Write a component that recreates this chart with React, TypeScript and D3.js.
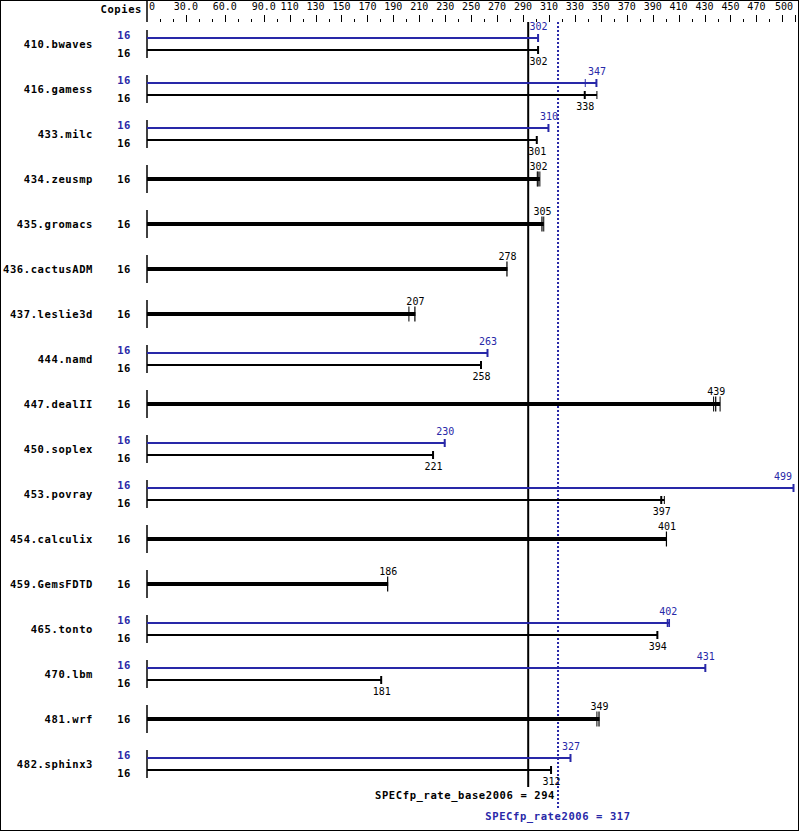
import React from "react";
import * as d3 from "d3";

const benchmarks = ["410.bwaves","416.gamess","433.milc","434.zeusmp","435.gromacs","436.cactusADM","437.leslie3d","444.namd","447.dealII","450.soplex","453.povray","454.calculix","459.GemsFDTD","465.tonto","470.lbm","481.wrf","482.sphinx3"];
const copies = [16,16,16,16,16,16,16,16,16,16,16,16,16,16,16,16,16];
const baseValues = [302,338,301,302,305,278,207,258,439,221,397,401,186,394,181,349,312];
const peakValues: (number|null)[] = [302,347,310,null,null,null,null,263,null,230,499,null,null,402,431,null,327];
const baseOtherRuns: number[][] = [[],[347],[],[301,303],[306],[],[202],[],[437,442],[],[399],[],[],[],[],[347],[]];
const peakOtherRuns: number[][] = [[],[338],[],[],[],[],[],[],[],[],[],[],[],[403],[],[],[]];
const tickLabels = ["0","30.0","60.0","90.0","110","130","150","170","190","210","230","250","270","290","310","330","350","370","390","410","430","450","470","500"];
const tickLabelValues = [0,30,60,90,110,130,150,170,190,210,230,250,270,290,310,330,350,370,390,410,430,450,470,500];
const baseMean = 294;
const peakMean = 317;

const W = 799, H = 831;
const BLUE = "#2828a8";
const boldFont = "'DejaVu Sans Mono', monospace";

export default function App() {
  const x = d3.scaleLinear().domain([0, 500]).range([147, 795.3]);
  const rowY = (i: number) => 44 + 45 * i;
  const minorTicks = d3.range(10, 501, 10);
  const longSet = new Set([...tickLabelValues, 490]);

  const label = (cx: number) => Math.min(cx, 783);

  const endTicks = (vals: number[], main: number, y: number, half: number, color: string, key: string, mainW: number) => (
    <g key={key}>
      {vals.map((r, j) => (
        <line key={j} x1={x(r)} x2={x(r)} y1={y - half} y2={y + half} stroke={color} strokeWidth={1} />
      ))}
      <line x1={x(main) - 0.5} x2={x(main) - 0.5} y1={y - half} y2={y + half} stroke={color} strokeWidth={mainW} />
    </g>
  );

  return (
    <svg width={W} height={H} style={{ position: "absolute", left: 0, top: 0, background: "#fff" }}>
      <rect x={0.5} y={0.5} width={W - 1} height={H - 1} fill="#fff" stroke="#000" strokeWidth={1} />
      {/* axis */}
      <line x1={147} x2={147} y1={0} y2={22} stroke="#000" strokeWidth={1.5} />
      {minorTicks.map((t) => (
        <line key={t} x1={Math.round(x(t)) + 0.5} x2={Math.round(x(t)) + 0.5} y1={longSet.has(t) ? 15 : 19} y2={22} stroke="#000" strokeWidth={1} />
      ))}
      {tickLabels.map((t, i) => {
        const v = tickLabelValues[i];
        const anchor = i === 0 ? "start" : i === tickLabels.length - 1 ? "end" : "middle";
        const px = i === 0 ? x(v) + 2 : i === tickLabels.length - 1 ? 793 : x(v);
        return (
          <text key={t} x={px} y={10} fontFamily={boldFont} fontSize={10} textAnchor={anchor} fill="#000">{t}</text>
        );
      })}
      <text x={142} y={13} fontFamily={boldFont} fontSize={10.5} fontWeight="bold" letterSpacing={0.6} textAnchor="end">Copies</text>

      {/* reference lines */}
      <line x1={x(baseMean)} x2={x(baseMean)} y1={22} y2={787} stroke="#000" strokeWidth={2} />
      <line x1={x(peakMean)} x2={x(peakMean)} y1={22} y2={808} stroke={BLUE} strokeWidth={2} strokeDasharray="2,2" />

      {benchmarks.map((name, i) => {
        const c = rowY(i);
        const peak = peakValues[i];
        const base = baseValues[i];
        const items: React.ReactNode[] = [];
        items.push(<line key="v" x1={147} x2={147} y1={c - 14} y2={c + 14} stroke="#000" strokeWidth={1.5} />);
        items.push(
          <text key="n" x={93} y={c} dy="0.35em" fontFamily={boldFont} fontSize={10.5} fontWeight="bold" letterSpacing={0.6} textAnchor="end">{name}</text>
        );
        if (peak === null) {
          const maxV = Math.max(base, ...baseOtherRuns[i]);
          items.push(<text key="c" x={131} y={c} dy="0.35em" fontFamily={boldFont} fontSize={10.5} fontWeight="bold" letterSpacing={0.6} textAnchor="end">{copies[i]}</text>);
          items.push(<line key="b" x1={147} x2={x(maxV)} y1={c} y2={c} stroke="#000" strokeWidth={4} />);
          items.push(endTicks(baseOtherRuns[i], base, c, 7.5, "#000", "t", 1.2));
          items.push(<text key="l" x={label(x(base))} y={c - 9} fontFamily={boldFont} fontSize={10} textAnchor="middle">{base}</text>);
        } else {
          const yp = c - 6, yb = c + 6;
          const maxP = Math.max(peak, ...peakOtherRuns[i]);
          const maxB = Math.max(base, ...baseOtherRuns[i]);
          items.push(<text key="cp" x={131} y={c - 9} dy="0.35em" fontFamily={boldFont} fontSize={10.5} fontWeight="bold" letterSpacing={0.6} textAnchor="end" fill={BLUE}>{copies[i]}</text>);
          items.push(<text key="cb" x={131} y={c + 9} dy="0.35em" fontFamily={boldFont} fontSize={10.5} fontWeight="bold" letterSpacing={0.6} textAnchor="end">{copies[i]}</text>);
          items.push(<line key="p" x1={147} x2={x(maxP)} y1={yp} y2={yp} stroke={BLUE} strokeWidth={2} />);
          items.push(endTicks(peakOtherRuns[i], peak, yp, 4, BLUE, "tp", 2));
          items.push(<line key="b" x1={147} x2={x(maxB)} y1={yb} y2={yb} stroke="#000" strokeWidth={2} />);
          items.push(endTicks(baseOtherRuns[i], base, yb, 4, "#000", "tb", 2));
          items.push(<text key="lp" x={label(x(peak))} y={c - 14} fontFamily={boldFont} fontSize={10} textAnchor="middle" fill={BLUE}>{peak}</text>);
          items.push(<text key="lb" x={label(x(base))} y={c + 21} fontFamily={boldFont} fontSize={10} textAnchor="middle">{base}</text>);
        }
        return <g key={name}>{items}</g>;
      })}

      <text x={555} y={799} fontFamily={boldFont} fontSize={10.5} fontWeight="bold" letterSpacing={0.6} textAnchor="end">SPECfp_rate_base2006 = {baseMean}</text>
      <text x={x(peakMean)} y={820} fontFamily={boldFont} fontSize={10.5} fontWeight="bold" letterSpacing={0.6} textAnchor="middle" fill={BLUE}>SPECfp_rate2006 = {peakMean}</text>
    </svg>
  );
}
